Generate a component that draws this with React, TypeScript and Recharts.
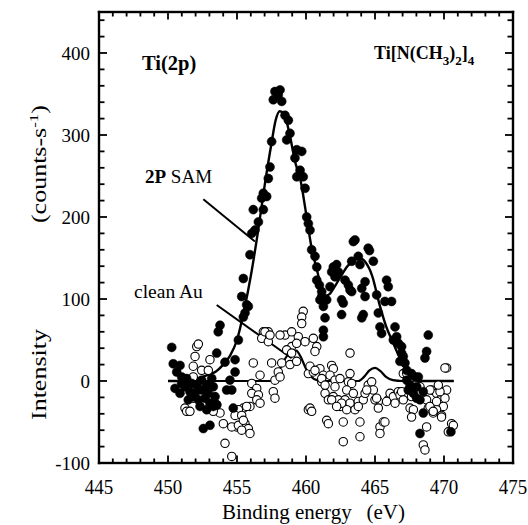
import React from 'react';
import { ComposedChart, Scatter, Line, XAxis, YAxis, ReferenceLine } from 'recharts';

const FONT = '"Liberation Serif", "Times New Roman", serif';

const X_MIN = 445;
const X_MAX = 475;
const Y_MIN = -100;
const Y_MAX = 450;

const xTicks = [445,446,447,448,449,450,451,452,453,454,455,456,457,458,459,460,461,462,463,464,465,466,467,468,469,470,471,472,473,474,475];
const yTicks = [-100,-80,-60,-40,-20,0,20,40,60,80,100,120,140,160,180,200,220,240,260,280,300,320,340,360,380,400,420,440];

// Filled circles: Ti 2P SAM
const samPoints: [number, number][] = [
  [450.27,41],[450.38,21],[450.87,19],[450.63,11],[450.99,5],[451.35,3],[450.51,-9],[451.23,-7],[450.87,-15],
  [451.59,-13],[451.83,-19],[451.47,-23],[452.2,-23],[452.68,-21],[452.44,-11],[452.08,-5],[451.72,-3],[452.8,-5],
  [453.28,-7],[453.41,-19],[453.04,-27],[452.32,-31],[453.28,-31],[452.8,-35],[453.53,-29],[450.99,-3],[452.44,1],
  [453.17,3],[451.96,-15],[452.92,-15],[452.56,-58],[453.04,-54],[454.25,-11],[454.73,-33],[454.62,-11],[454.49,1],
  [454.86,11],[454.13,23],[454.86,26],[453.53,34],[453.77,68],[453.64,60],[455.1,50],[455.46,78],[455.34,103],
  [455.7,93],[455.46,125],[455.58,83],[455.82,91],
  [455.94,154],[456.07,180],[456.3,184],[456.55,194],[456.18,209],[456.91,209],[456.79,223],[457.15,225],
  [456.91,229],[457.27,247],[457.39,261],[457.51,292],
  [457.75,353],[458.12,355],[457.63,343],[458.24,341],[457.99,349],
  [458.48,324],[458.72,318],[458.84,302],[458.6,294],[459.33,282],[459.69,280],[459.2,272],[459.57,257],
  [459.33,249],[459.8,249],[459.93,235],[460.05,200],[460.17,192],[460.29,184],[460.41,160],[460.65,152],
  [460.78,139],[460.78,123],[460.97,117],[461.14,103],[461.01,99],[461.26,91],[461.38,77],[461.26,62],
  [461.26,54],[461.14,109],
  [461.98,139],[462.22,142],[462.34,133],[461.86,133],[462.1,127],[461.74,115],[461.5,99],[463.55,172],
  [463.43,170],[464.51,162],[464.6,159],[463.31,146],[463.79,152],[463.91,142],[464.88,146],[462.83,123],
  [463.07,117],[463.19,111],[464.28,121],[464.04,113],[462.58,99],[462.58,81],[464.04,77],[464.15,81],
  [464.28,103],[465.12,105],[465.24,83],[465.36,66],[465.48,58],[465.84,123],[465.96,115],[466.2,97],
  [466.45,66],[466.57,54],[466.69,46],[466.93,42],[467.05,30],[467.17,22],[467.3,13],[462.22,131],
  [463.31,109],[465.72,97],[462.7,95],[466.33,50],[466.93,34],[466.81,24],
  [468.86,56],[468.74,36],[468.62,28],[467.65,9],[467.9,5],[468.14,5],[467.3,1],[467.54,-5],[467.41,-11],
  [467.78,-15],[468.02,-21],[468.26,-23],[468.5,-13],[468.02,-7],[468.5,-39],[468.26,-64],[470.5,-62],
];

// Open circles: clean Au
const auPoints: [number, number][] = [
  [459.8,85],[459.69,78],[459.69,70],[456.91,60],[457.27,60],[456.79,52],[457.27,48],[458.48,56],[458.96,42],
  [459.44,54],[459.93,48],[459.32,46],[458.6,38],[458.96,34],[458.24,22],[458.84,20],[459.32,24],[456.18,22],
  [457.51,22],[457.99,11],[457.75,1],[458.12,5],[456.67,7],[452.08,42],[452.2,45],[451.96,30],[451.83,18],
  [452.44,13],[452.92,13],[453.04,26],[451.83,5],[456.07,-3],[456.43,-9],[456.07,-15],[456.55,-17],[456.43,-23],
  [456.67,-27],[457.63,-13],[457.75,-21],[455.94,-31],[455.46,-33],[455.1,-35],[454.86,-42],[455.34,-42],
  [455.58,-52],[455.82,-58],[455.94,-64],[454.97,-56],[454.62,-56],[454.01,-52],[453.77,-39],[453.53,-29],
  [451.23,-33],[451.35,-37],[454.13,-76],[454.62,-92],[460.17,9],[460.17,-35],[451.83,-21],[451.59,-37],
  [453.16,-29],[453.28,-37],[455.1,-54],[455.34,-60],[455.7,-31],[455.46,-48],[457.03,60],[457.39,56],
  [458.12,56],[458.96,60],
  [460.53,52],[460.78,42],[460.65,36],[463.19,34],[460.53,11],[461.01,15],[461.26,7],[461.14,-1],[461.86,19],
  [461.98,15],[461.74,7],[462.1,1],[463.07,-1],[463.19,9],[461.38,-15],[461.62,-23],[461.98,-19],[462.34,-23],
  [462.46,-31],[462.83,-23],[463.19,-27],[462.95,-35],[463.55,-35],[463.79,-25],[464.15,-23],[464.28,-15],
  [464.51,-5],[464.76,-1],[464.88,-11],[465.24,-25],[465.0,-23],[465.96,-23],[466.09,-15],[466.33,-19],
  [466.69,-13],[466.81,-17],[466.45,-27],[460.29,-33],[460.41,-37],[461.5,-48],[462.7,-50],[463.91,-50],
  [465.36,-56],[465.6,-50],[467.41,7],[467.65,1],[467.9,-5],[467.05,9],[470.19,16],[469.1,-11],[469.46,-15],
  [469.95,-13],[470.19,-11],[469.71,-23],[469.95,-31],[469.46,-35],[468.86,-33],[469.22,-39],[469.82,-42],
  [470.55,-52],[468.74,-23],[461.62,-52],[462.7,-74],[463.91,-68],[465.36,-64],[465.72,-50],[460.29,18],
  [460.65,13],[461.14,3],[461.38,-5],[461.86,-23],[462.1,-7],[462.46,3],[463.31,-3],[462.95,-11],
  [462.58,-27],[462.22,-31],[463.43,-15],[463.79,-31],[464.4,-11],[465.12,-21],[465.24,-33],[465.84,-25],
  [467.05,-23],[467.54,-33],[467.78,-35],[467.65,-44],[468.74,-56],[468.98,-31],[469.22,-37],[469.46,-25],
  [469.82,-44],[470.07,-21],[469.71,-13],[468.98,-11],[469.59,-5],[470.31,-62],[470.68,-54],[468.5,-78],
  [468.62,-84],[470.07,16],[467.3,9],[468.26,-7],[467.65,-19],[466.93,-13],
];

// Fitted curves
const samFitX = [450,451,451.5,452,452.5,453,453.5,454,454.5,455,455.5,456,456.5,457,457.5,457.8,458.1,458.4,458.8,459.2,459.6,460,460.4,460.8,461.1,461.4,461.7,462,462.5,463,463.5,463.9,464.3,464.8,465.3,465.8,466.3,466.8,467.3,467.7,468,468.3,470.7];
const samFitY = [0,0,1,2.5,5,8,12,20,31,50,85,128,180,238,290,318,329,326,302,268,245,205,163,135,115,104,106,113,127,140,148,150,145,128,95,67,47,28,13,4,1,0,0];
const auFitX = [450,457.4,457.8,458.2,458.6,459,459.3,459.6,460,460.4,460.8,461.5,463.8,464.2,464.6,465,465.4,465.8,466.3,467,470.7];
const auFitY = [0,0,5,18,30,36,37,30,15,5,1,0,0,5,13,16,12,5,1,0,0];

// Annotation pointer segments (data coordinates)
const samPointer = [{ x: 452.56, y: 221.6 }, { x: 456.3, y: 170 }];
const auPointer = [{ x: 453.53, y: 92.7 }, { x: 458.96, y: 27.7 }];

const samData = samPoints.map(([x, y]) => ({ x, y }));
const auData = auPoints.map(([x, y]) => ({ x, y }));
const samFit = samFitX.map((x, i) => ({ x, y: samFitY[i] }));
const auFit = auFitX.map((x, i) => ({ x, y: auFitY[i] }));

// Layout
const W = 528;
const H = 525;
const MARGIN = { top: 12, right: 15, bottom: 0, left: 39 };
const Y_AXIS_W = 60;
const X_AXIS_H = 62;
const PLOT_L = MARGIN.left + Y_AXIS_W;
const PLOT_R = W - MARGIN.right;
const PLOT_T = MARGIN.top;
const PLOT_B = H - X_AXIS_H - MARGIN.bottom;
const sx = (v: number) => PLOT_L + ((v - X_MIN) / (X_MAX - X_MIN)) * (PLOT_R - PLOT_L);
const sy = (v: number) => PLOT_B - ((v - Y_MIN) / (Y_MAX - Y_MIN)) * (PLOT_B - PLOT_T);

const isMajorX = (v: number) => Math.abs(v % 5) < 1e-6;
const isMajorY = (v: number) => Math.abs(v % 100) < 1e-6;

const BottomLabel = (props: any) => {
  const { x, y, payload } = props;
  const v = payload.value;
  if (!isMajorX(v)) return <g />;
  return (
    <text transform={`translate(${x},${y + 31}) scale(1,1.15)`} textAnchor="middle" fontFamily={FONT} fontSize={19} fill="#000" stroke="none">
      {v}
    </text>
  );
};

const LeftLabel = (props: any) => {
  const { x, y, payload } = props;
  const v = payload.value;
  if (!isMajorY(v)) return <g />;
  return (
    <text x={x - 9} y={y + 6.5} textAnchor="end" fontFamily={FONT} fontSize={19} fill="#000" stroke="none">
      {v}
    </text>
  );
};

const FilledDot = (props: any) => <circle cx={props.cx} cy={props.cy} r={4.5} fill="#000" stroke="#000" strokeWidth={0.5} />;
const OpenDot = (props: any) => <circle cx={props.cx} cy={props.cy} r={4.2} fill="#fff" stroke="#000" strokeWidth={1.1} />;

function FrameAndTicks() {
  const rects: React.ReactElement[] = [];
  xTicks.forEach((v, i) => {
    const len = isMajorX(v) ? 7.5 : 4.5;
    const x = sx(v);
    rects.push(<rect key={`b${i}`} x={x - 0.9} y={PLOT_B - len} width={1.8} height={len} fill="#000" />);
    rects.push(<rect key={`t${i}`} x={x - 0.9} y={PLOT_T} width={1.8} height={len} fill="#000" />);
  });
  yTicks.forEach((v, i) => {
    const len = isMajorY(v) ? 8 : 5.5;
    const y = sy(v);
    rects.push(<rect key={`l${i}`} x={PLOT_L} y={y - 0.9} width={len} height={1.8} fill="#000" />);
    rects.push(<rect key={`r${i}`} x={PLOT_R - len} y={y - 0.9} width={len} height={1.8} fill="#000" />);
  });
  const t = 2.4;
  return (
    <g>
      {rects}
      <rect x={PLOT_L - t / 2} y={PLOT_T - t / 2} width={PLOT_R - PLOT_L + t} height={t} fill="#000" />
      <rect x={PLOT_L - t / 2} y={PLOT_B - t / 2} width={PLOT_R - PLOT_L + t} height={t} fill="#000" />
      <rect x={PLOT_L - t / 2} y={PLOT_T - t / 2} width={t} height={PLOT_B - PLOT_T + t} fill="#000" />
      <rect x={PLOT_R - t / 2} y={PLOT_T - t / 2} width={t} height={PLOT_B - PLOT_T + t} fill="#000" />
    </g>
  );
}

export default function App() {
  return (
    <div style={{ position: 'relative', width: W, height: H }}>
      <style>{'html,body{margin:0;padding:0;}'}</style>
      <ComposedChart width={W} height={H} margin={MARGIN}>
        <XAxis dataKey="x" type="number" domain={[X_MIN, X_MAX]} ticks={xTicks} interval={0}
          height={X_AXIS_H} tickSize={0} tickMargin={0} tickLine={false} axisLine={false} tick={<BottomLabel />} />
        <YAxis dataKey="y" type="number" domain={[Y_MIN, Y_MAX]} ticks={yTicks} interval={0}
          width={Y_AXIS_W} tickSize={0} tickMargin={0} tickLine={false} axisLine={false} tick={<LeftLabel />} />
        <Scatter data={auData} dataKey="y" shape={<OpenDot />} isAnimationActive={false} />
        <Scatter data={samData} dataKey="y" shape={<FilledDot />} isAnimationActive={false} />
        <Line data={auFit} dataKey="y" type="monotone" stroke="#000" strokeWidth={2.2} dot={false} activeDot={false} isAnimationActive={false} />
        <Line data={samFit} dataKey="y" type="monotone" stroke="#000" strokeWidth={2.4} dot={false} activeDot={false} isAnimationActive={false} />
        <ReferenceLine segment={samPointer} stroke="#000" strokeWidth={2} ifOverflow="visible" />
        <ReferenceLine segment={auPointer} stroke="#000" strokeWidth={2} ifOverflow="visible" />
      </ComposedChart>
      <svg width={W} height={H} style={{ position: 'absolute', left: 0, top: 0, pointerEvents: 'none' }}>
        <FrameAndTicks />
        <text x={142} y={70} fontFamily={FONT} fontSize={20.5} fontWeight="bold" fill="#000">Ti(2p)</text>
        <text x={374} y={59} fontFamily={FONT} fontSize={18} fontWeight="bold" fill="#000">
          Ti[N(CH<tspan fontSize={13} dy={6}>3</tspan><tspan dy={-6}>)</tspan><tspan fontSize={13} dy={6}>2</tspan><tspan dy={-6}>]</tspan><tspan fontSize={13} dy={6}>4</tspan>
        </text>
        <text x={145} y={183} fontFamily={FONT} fontSize={19} fill="#000">
          <tspan fontWeight="bold">2P</tspan> SAM
        </text>
        <text x={134} y={298} fontFamily={FONT} fontSize={19.5} fill="#000">clean Au</text>
        <text x={222} y={518.5} textAnchor="start" fontFamily={FONT} fontSize={21} fill="#000">Binding energy</text>
        <text x={405} y={518.5} textAnchor="end" fontFamily={FONT} fontSize={21} fill="#000">(eV)</text>
        <text transform="translate(46,420) rotate(-90) scale(1.3,1)" textAnchor="start" fontFamily={FONT} fontSize={20} fill="#000">
          Intensity
        </text>
        <text transform="translate(46,105) rotate(-90) scale(1.3,1)" textAnchor="end" fontFamily={FONT} fontSize={20} fill="#000">
          (counts-s<tspan fontSize={13} dy={-8}>-1</tspan><tspan dy={8}>)</tspan>
        </text>
      </svg>
    </div>
  );
}
